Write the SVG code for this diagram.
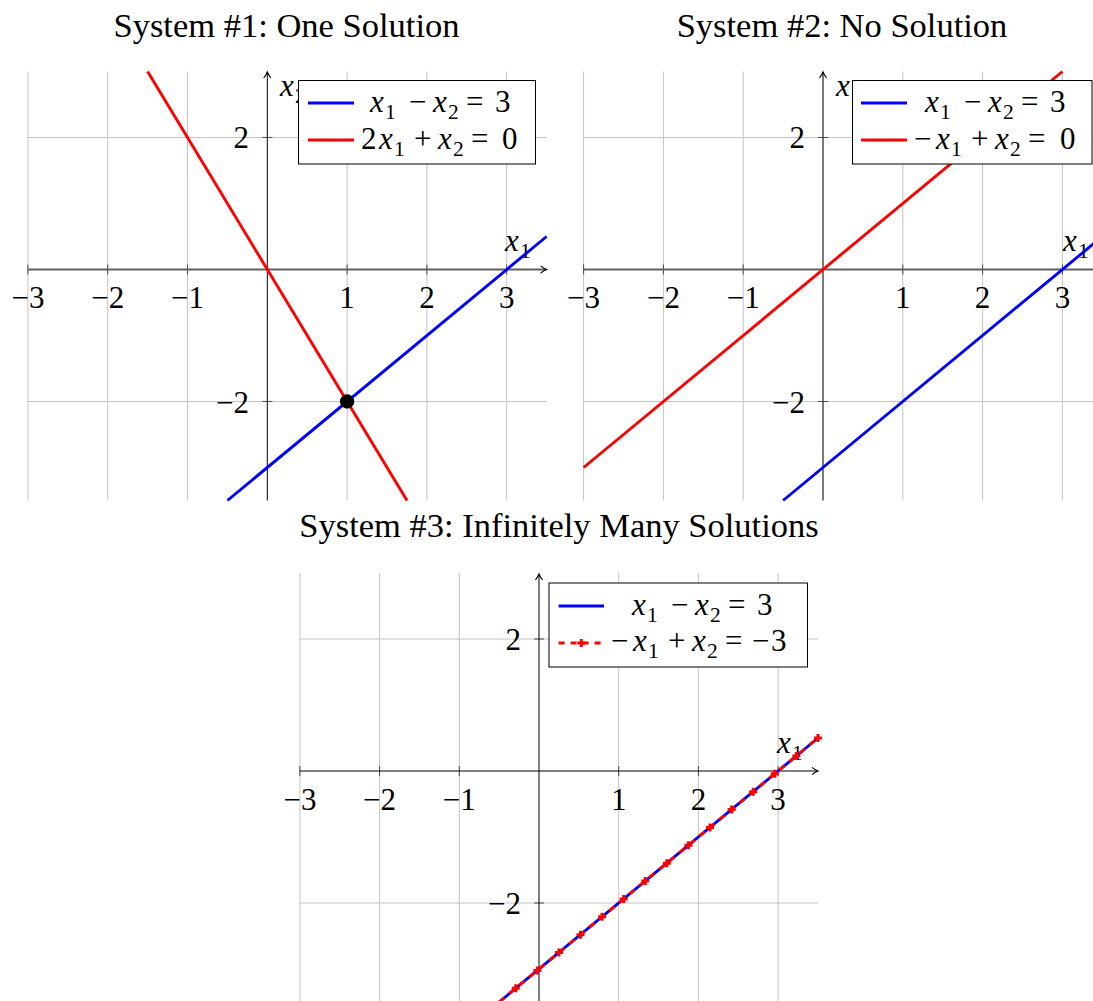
<svg xmlns="http://www.w3.org/2000/svg" xmlns:xlink="http://www.w3.org/1999/xlink" width="1093" height="1001" viewBox="0 0 1093 1001">
<style>
text{font-family:"Liberation Serif","DejaVu Serif",serif;fill:#000}
.title{font-size:34.5px;text-anchor:middle}
.lbl{font-size:31px}
.tx{font-size:31px;text-anchor:middle}
.ty{font-size:31px;text-anchor:end}
.it{font-style:italic}
.sub{font-size:21.5px;font-style:normal}
.grid{stroke:#c4c4c4;stroke-width:1;fill:none}
.tick{stroke:#4a4a4a;stroke-width:1;fill:none}
.axg{stroke:#606060;stroke-width:1.9;fill:none}
.axk{stroke:#000;stroke-width:1;fill:none}
.blue{stroke:#0000ff;stroke-width:2.9;fill:none}
.red{stroke:#ff0000;stroke-width:2.9;fill:none}
.reddash{stroke:#ff0000;stroke-width:2.9;fill:none;stroke-dasharray:7 6}
.legend{fill:#fff;stroke:#000;stroke-width:1}
</style>
<defs>
<marker id="arr" viewBox="-8 -5 10 10" refX="0" refY="0" markerWidth="10" markerHeight="10" orient="auto" markerUnits="userSpaceOnUse">
<path d="M-6,-3.6 Q-2.5,-0.8 0,0 Q-2.5,0.8 -6,3.6" fill="none" stroke="#000" stroke-width="1.1"/>
</marker>
<path id="plus" d="M-4,0 H4 M0,-4 V4" stroke="#ff0000" stroke-width="3" fill="none"/>
</defs>

<!-- Titles -->
<g id="titles">
<text class="title" x="286.5" y="37">System #1: One Solution</text>
<text class="title" x="842" y="37">System #2: No Solution</text>
<text class="title" x="559" y="537">System #3: Infinitely Many Solutions</text>
</g>

<!-- Plot 1 -->
<g id="plot1">
<g class="grid">
<path d="M27.9,71.5V500.5M107.7,71.5V500.5M187.5,71.5V500.5M347.1,71.5V500.5M426.9,71.5V500.5M506.7,71.5V500.5"/>
<path d="M27.9,137.5H546.6M27.9,401.5H546.6"/>
</g>
<g class="tick">
<path d="M27.9,264.5v10M107.7,264.5v10M187.5,264.5v10M347.1,264.5v10M426.9,264.5v10M506.7,264.5v10"/>
<path d="M262.3,137.5h10M262.3,401.5h10"/>
</g>
<line class="axg" x1="27.9" y1="269.5" x2="546.6" y2="269.5" marker-end="url(#arr)"/>
<line class="axk" x1="267.3" y1="500.5" x2="267.3" y2="72" marker-end="url(#arr)"/>
<g class="tx">
<text x="27.9" y="308">−3</text><text x="107.7" y="308">−2</text><text x="187.5" y="308">−1</text>
<text x="347.1" y="308">1</text><text x="426.9" y="308">2</text><text x="506.7" y="308">3</text>
</g>
<g class="ty">
<text x="249" y="148">2</text><text x="249" y="412.5">−2</text>
</g>
<text class="lbl" y="251"><tspan x="505" class="it">x</tspan><tspan x="520" dy="7" class="sub">1</tspan></text>
<text class="lbl" y="96"><tspan x="280" class="it">x</tspan><tspan x="295" dy="7" class="sub">2</tspan></text>
<line class="blue" x1="227.4" y1="500.5" x2="546.6" y2="236.5"/>
<line class="red" x1="147.6" y1="71.5" x2="407" y2="500.5"/>
<circle cx="347.1" cy="401.5" r="7.2" fill="#000"/>
<g id="legend1">
<rect class="legend" x="298.5" y="80.5" width="237" height="83.5"/>
<line class="blue" x1="308" y1="103" x2="354" y2="103"/>
<line class="red" x1="308" y1="140" x2="354" y2="140"/>
<text class="lbl" y="112"><tspan x="370" class="it">x</tspan><tspan x="385" dy="7" class="sub">1</tspan><tspan x="409" dy="-7">−</tspan><tspan x="433" class="it">x</tspan><tspan x="448" dy="7" class="sub">2</tspan><tspan x="466" dy="-7">=</tspan><tspan x="495">3</tspan></text>
<text class="lbl" y="149"><tspan x="361">2</tspan><tspan x="379" class="it">x</tspan><tspan x="394" dy="7" class="sub">1</tspan><tspan x="414" dy="-7">+</tspan><tspan x="438" class="it">x</tspan><tspan x="453" dy="7" class="sub">2</tspan><tspan x="471" dy="-7">=</tspan><tspan x="502">0</tspan></text>
</g>
</g>

<!-- Plot 2 -->
<g id="plot2">
<g class="grid">
<path d="M583.6,71.5V500.5M663.4,71.5V500.5M743.2,71.5V500.5M902.8,71.5V500.5M982.6,71.5V500.5M1062.4,71.5V500.5"/>
<path d="M583.6,137.5H1102M583.6,401.5H1102"/>
</g>
<g class="tick">
<path d="M583.6,264.5v10M663.4,264.5v10M743.2,264.5v10M902.8,264.5v10M982.6,264.5v10M1062.4,264.5v10"/>
<path d="M818,137.5h10M818,401.5h10"/>
</g>
<line class="axg" x1="583.6" y1="269.5" x2="1102.3" y2="269.5" marker-end="url(#arr)"/>
<line x1="823" y1="500.5" x2="823" y2="72" stroke="#333" stroke-width="1.3" marker-end="url(#arr)"/>
<g class="tx">
<text x="583.6" y="308">−3</text><text x="663.4" y="308">−2</text><text x="743.2" y="308">−1</text>
<text x="902.8" y="308">1</text><text x="982.6" y="308">2</text><text x="1062.4" y="308">3</text>
</g>
<g class="ty">
<text x="805" y="148">2</text><text x="805" y="412.5">−2</text>
</g>
<text class="lbl" y="251"><tspan x="1063" class="it">x</tspan><tspan x="1078" dy="7" class="sub">1</tspan></text>
<text class="lbl" y="96"><tspan x="836" class="it">x</tspan><tspan x="851" dy="7" class="sub">2</tspan></text>
<line class="blue" x1="783.1" y1="500.5" x2="1102.3" y2="236.5"/>
<line class="red" x1="583.6" y1="467.5" x2="1062.4" y2="71.5"/>
<g id="legend2">
<rect class="legend" x="852.5" y="80.5" width="239.5" height="83.5"/>
<line class="blue" x1="861" y1="103" x2="907" y2="103"/>
<line class="red" x1="861" y1="140" x2="907" y2="140"/>
<text class="lbl" y="112"><tspan x="925" class="it">x</tspan><tspan x="940" dy="7" class="sub">1</tspan><tspan x="964" dy="-7">−</tspan><tspan x="988" class="it">x</tspan><tspan x="1003" dy="7" class="sub">2</tspan><tspan x="1021" dy="-7">=</tspan><tspan x="1050">3</tspan></text>
<text class="lbl" y="149"><tspan x="914">−</tspan><tspan x="936" class="it">x</tspan><tspan x="951" dy="7" class="sub">1</tspan><tspan x="971" dy="-7">+</tspan><tspan x="995" class="it">x</tspan><tspan x="1010" dy="7" class="sub">2</tspan><tspan x="1028" dy="-7">=</tspan><tspan x="1060">0</tspan></text>
</g>
</g>

<!-- Plot 3 -->
<g id="plot3">
<g class="grid">
<path d="M299.9,573V1002M379.6,573V1002M459.3,573V1002M618.7,573V1002M698.4,573V1002M778.1,573V1002"/>
<path d="M299.9,639H818M299.9,903H818"/>
</g>
<g class="tick">
<path d="M299.9,766v10M379.6,766v10M459.3,766v10M618.7,766v10M698.4,766v10M778.1,766v10"/>
<path d="M534,639h10M534,903h10"/>
</g>
<line class="axk" x1="299.9" y1="771" x2="818" y2="771" marker-end="url(#arr)"/>
<line class="axk" x1="539" y1="1002" x2="539" y2="574" marker-end="url(#arr)"/>
<g class="tx">
<text x="299.9" y="809.5">−3</text><text x="379.6" y="809.5">−2</text><text x="459.3" y="809.5">−1</text>
<text x="618.7" y="809.5">1</text><text x="698.4" y="809.5">2</text><text x="778.1" y="809.5">3</text>
</g>
<g class="ty">
<text x="521" y="650">2</text><text x="521" y="914">−2</text>
</g>
<text class="lbl" y="753"><tspan x="777" class="it">x</tspan><tspan x="792" dy="7" class="sub">1</tspan></text>
<line class="blue" x1="499.15" y1="1002" x2="817.95" y2="738"/>
<line class="reddash" x1="499.15" y1="1002" x2="817.95" y2="738"/>
<g id="marks3">
<use xlink:href="#plus" x="515.75" y="988.25"/>
<use xlink:href="#plus" x="537.34" y="970.38"/>
<use xlink:href="#plus" x="558.93" y="952.5"/>
<use xlink:href="#plus" x="580.51" y="934.63"/>
<use xlink:href="#plus" x="602.1" y="916.75"/>
<use xlink:href="#plus" x="623.68" y="898.88"/>
<use xlink:href="#plus" x="645.27" y="881"/>
<use xlink:href="#plus" x="666.85" y="863.13"/>
<use xlink:href="#plus" x="688.44" y="845.25"/>
<use xlink:href="#plus" x="710.02" y="827.38"/>
<use xlink:href="#plus" x="731.61" y="809.5"/>
<use xlink:href="#plus" x="753.19" y="791.63"/>
<use xlink:href="#plus" x="774.78" y="773.75"/>
<use xlink:href="#plus" x="796.36" y="755.88"/>
<use xlink:href="#plus" x="817.95" y="738"/>
</g>
<g id="legend3">
<rect class="legend" x="549" y="583" width="258.5" height="84"/>
<line class="blue" x1="558.6" y1="606" x2="604" y2="606"/>
<line class="reddash" x1="558.6" y1="643" x2="604" y2="643" style="stroke-dasharray:6 6"/>
<use xlink:href="#plus" x="581.3" y="643"/>
<text class="lbl" y="615"><tspan x="632" class="it">x</tspan><tspan x="647" dy="7" class="sub">1</tspan><tspan x="671" dy="-7">−</tspan><tspan x="695" class="it">x</tspan><tspan x="710" dy="7" class="sub">2</tspan><tspan x="728" dy="-7">=</tspan><tspan x="757">3</tspan></text>
<text class="lbl" y="651"><tspan x="611">−</tspan><tspan x="633" class="it">x</tspan><tspan x="648" dy="7" class="sub">1</tspan><tspan x="668" dy="-7">+</tspan><tspan x="692" class="it">x</tspan><tspan x="707" dy="7" class="sub">2</tspan><tspan x="725" dy="-7">=</tspan><tspan x="752">−</tspan><tspan x="771">3</tspan></text>
</g>
</g>
</svg>
